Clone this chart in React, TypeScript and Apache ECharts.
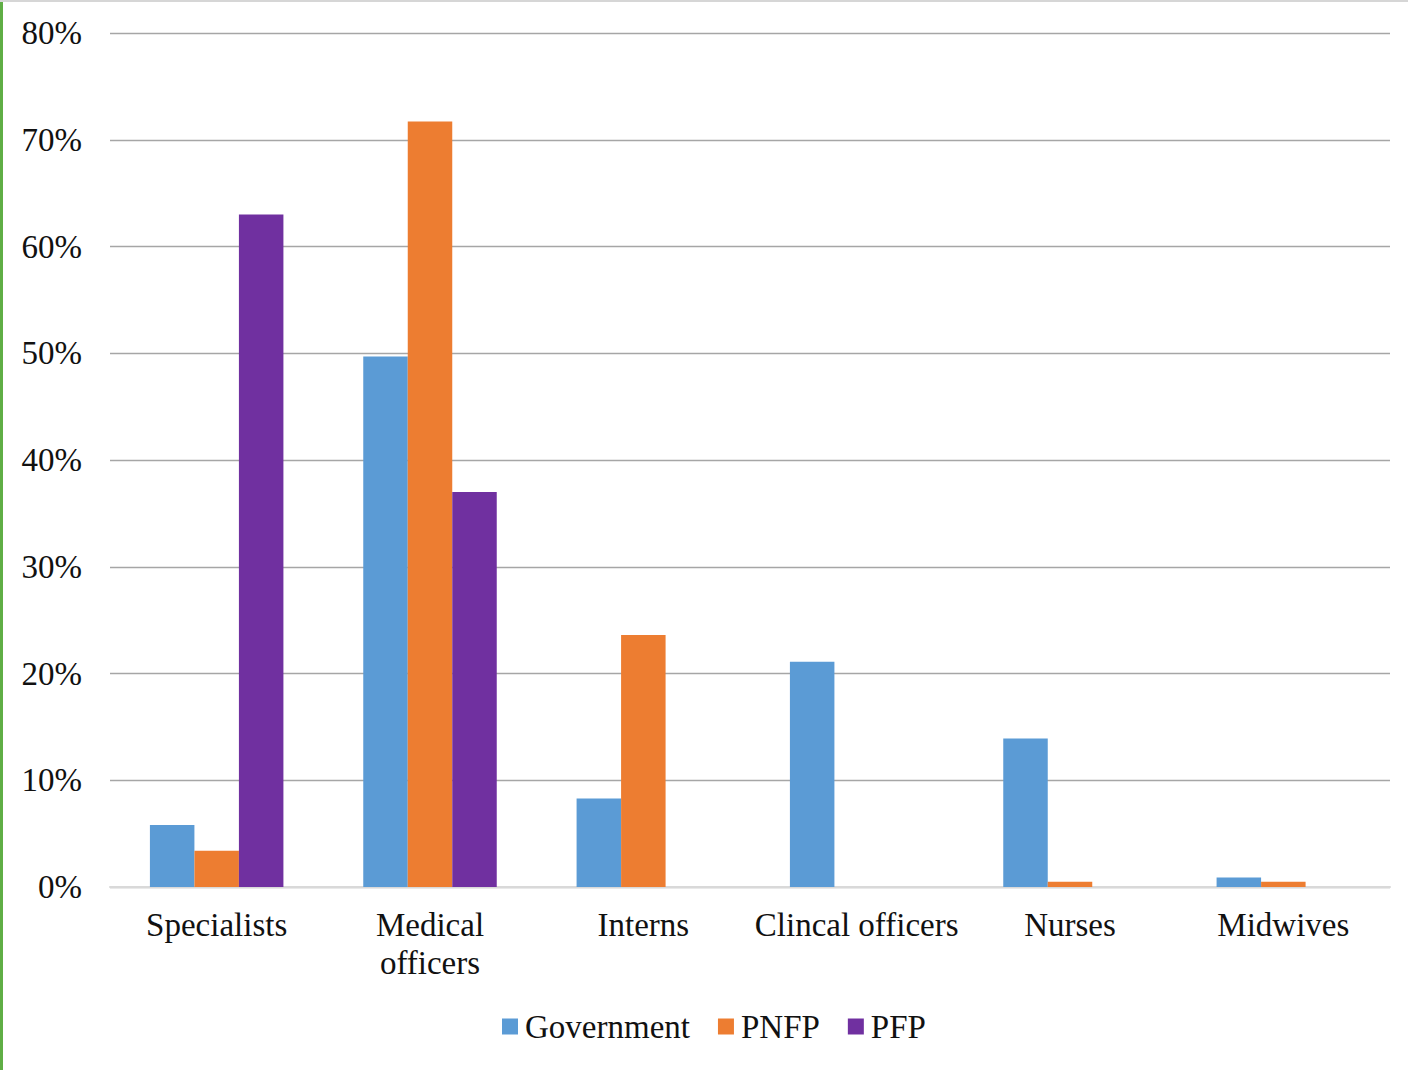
import React, { useEffect, useRef } from "react";
import * as echarts from "echarts";

const categories = ["Specialists", "Medical\nofficers", "Interns", "Clincal officers", "Nurses", "Midwives"];
const government = [5.8, 49.7, 8.3, 21.1, 13.9, 0.9];
const pnfp = [3.4, 71.7, 23.6, 0, 0.5, 0.5];
const pfp = [63.0, 37.0, 0, 0, 0, 0];
const yTicks = [0, 10, 20, 30, 40, 50, 60, 70, 80];

const FONT = "Liberation Serif";

export default function App() {
  const ref = useRef<HTMLDivElement>(null);
  useEffect(() => {
    if (!ref.current) return;
    const chart = echarts.init(ref.current, undefined, { renderer: "svg" });
    const mk = (name: string, data: number[], color: string) => ({
      name,
      type: "bar",
      data,
      barWidth: 44.5,
      barGap: "0%",
      itemStyle: { color },
    });
    chart.setOption({
      animation: false,
      backgroundColor: "#ffffff",
      textStyle: { fontFamily: FONT },
      grid: { left: 110, right: 18, top: 33, bottom: 183, containLabel: false },
      legend: {
        bottom: 22,
        left: 497,
        itemWidth: 16,
        itemHeight: 16,
        itemGap: 28,
        icon: "rect",
        textStyle: { fontFamily: FONT, fontSize: 33, color: "#111", padding: [0, 0, 0, 2] },
        data: ["Government", "PNFP", "PFP"],
      },
      xAxis: {
        type: "category",
        data: categories,
        axisLine: { show: true, lineStyle: { color: "#d9d9d9", width: 2 } },
        axisTick: { show: false },
        axisLabel: {
          fontFamily: FONT,
          fontSize: 33,
          color: "#111",
          margin: 19,
          lineHeight: 38,
          interval: 0,
        },
      },
      yAxis: {
        type: "value",
        min: yTicks[0],
        max: yTicks[yTicks.length - 1],
        interval: 10,
        axisLine: { show: false },
        axisTick: { show: false },
        axisLabel: {
          fontFamily: FONT,
          fontSize: 33,
          color: "#111",
          margin: 28,
          formatter: (v: number) => `${v}%`,
        },
        splitLine: { lineStyle: { color: "#a6a6a6", width: 1.3 } },
      },
      series: [
        mk("Government", government, "#5b9bd5"),
        mk("PNFP", pnfp, "#ed7d31"),
        mk("PFP", pfp, "#7030a0"),
      ],
    });
    return () => chart.dispose();
  }, []);
  return (
    <div
      style={{
        position: "absolute",
        left: 0,
        top: 0,
        width: 1408,
        height: 1070,
        background: "#fff",
      }}
    >
      <div ref={ref} style={{ position: "absolute", left: 0, top: 0, width: 1408, height: 1070 }} />
      <div style={{ position: "absolute", left: 0, top: 0, width: 3, height: 1070, background: "#5fae45" }} />
      <div style={{ position: "absolute", left: 0, top: 0, width: 1408, height: 2, background: "#d6d6d6" }} />
    </div>
  );
}
